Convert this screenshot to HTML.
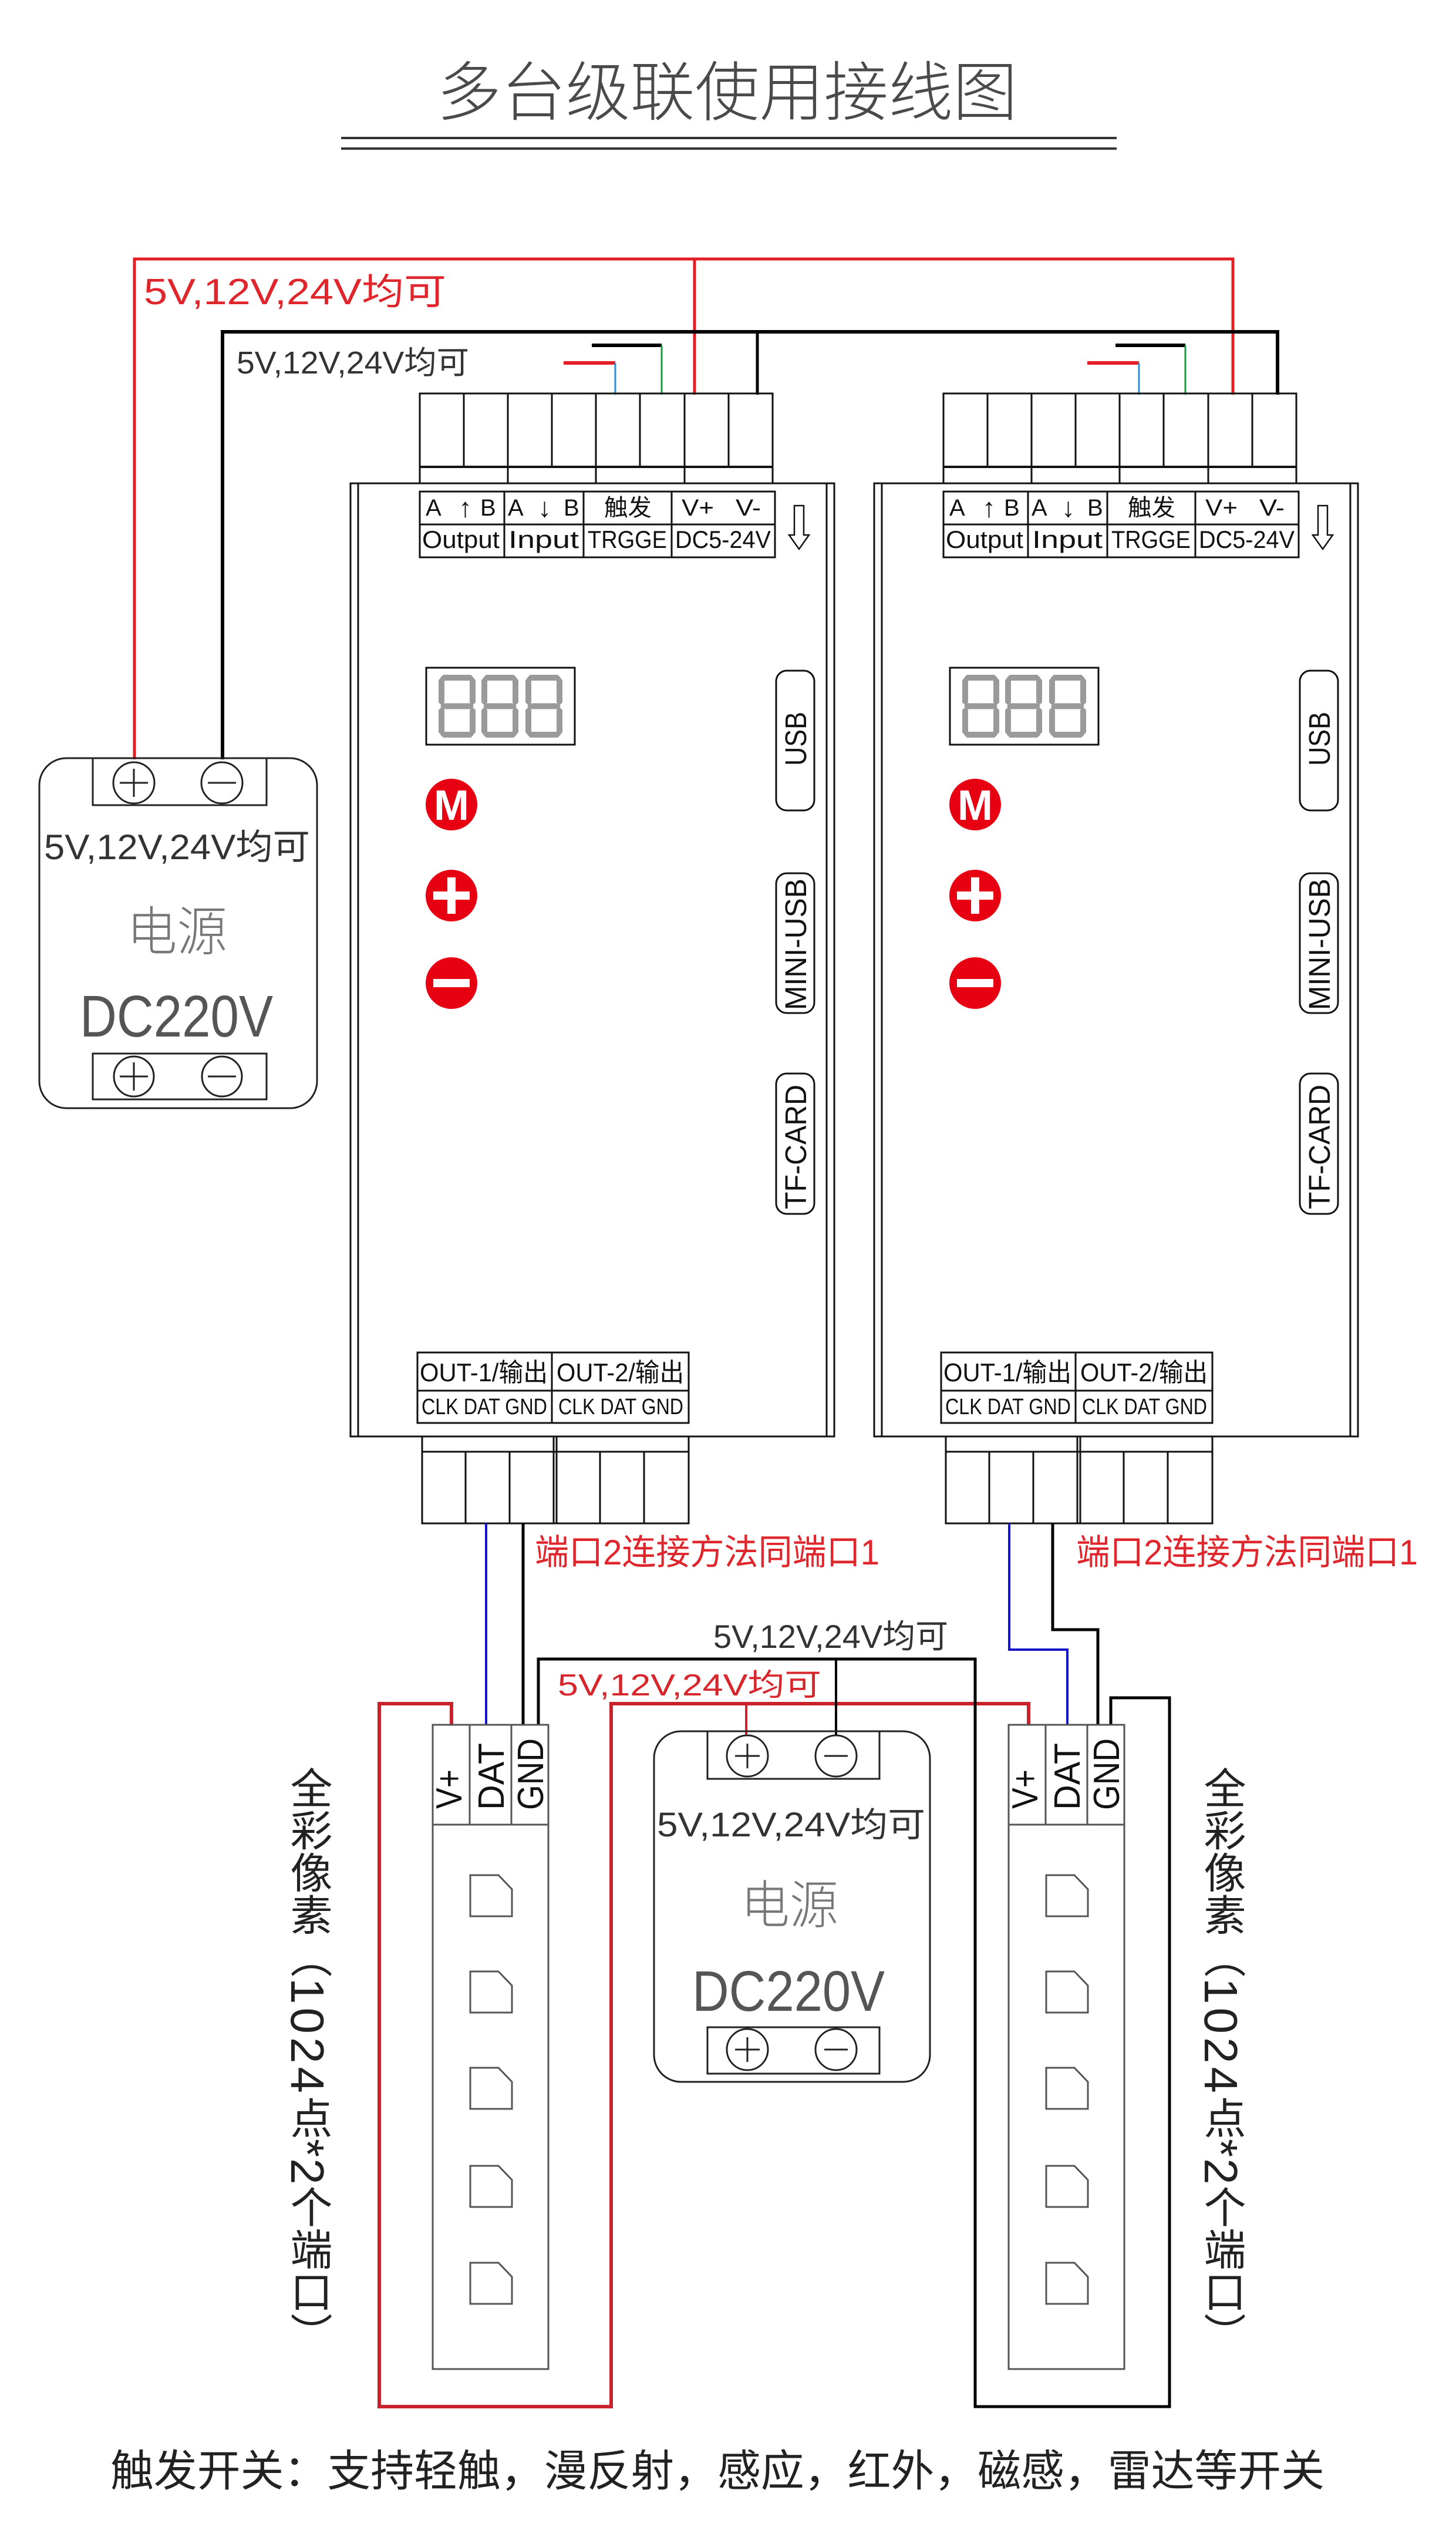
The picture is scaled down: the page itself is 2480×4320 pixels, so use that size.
<!DOCTYPE html>
<html><head><meta charset="utf-8">
<style>
html,body{margin:0;padding:0;background:#fff;}
body{width:2480px;height:4320px;position:relative;overflow:hidden;}
svg{position:absolute;left:0;top:0;}
.v{position:absolute;writing-mode:vertical-rl;font-family:"Liberation Sans","Noto Sans CJK SC",sans-serif;font-size:72px;line-height:72px;color:#222;white-space:nowrap;}
.v .d{font-size:80px;letter-spacing:6px;}
.v .s{font-size:80px;letter-spacing:2px;}
</style></head><body>
<svg width="2480" height="4320" viewBox="0 0 2480 4320" xmlns="http://www.w3.org/2000/svg" font-family="'Liberation Sans','Noto Sans CJK SC',sans-serif">
<defs>
<g id="dg" fill="#9a9a9a">
<polygon points="3,5 8,0 55,0 60,5 55,10 8,10"/>
<polygon points="3,53.5 8,48.5 55,48.5 60,53.5 55,58.5 8,58.5"/>
<polygon points="3,102 8,97 55,97 60,102 55,107 8,107"/>
<polygon points="5,4 10,9 10,47 5,52 0,47 0,9"/>
<polygon points="5,55 10,60 10,98 5,103 0,98 0,60"/>
<polygon points="58,4 63,9 63,47 58,52 53,47 53,9"/>
<polygon points="58,55 63,60 63,98 58,103 53,98 53,60"/>
</g>
</defs>

<!-- Title -->
<text x="744" y="196" font-size="110" font-weight="300" textLength="989" lengthAdjust="spacingAndGlyphs" fill="#4a4a4a">多台级联使用接线图</text>
<line x1="581" y1="235" x2="1902" y2="235" stroke="#333" stroke-width="4"/>
<line x1="581" y1="253" x2="1902" y2="253" stroke="#333" stroke-width="4"/>

<!-- Top wires -->
<g fill="none">
<path d="M229 1293 V441 H2100 V672" stroke="#e31e24" stroke-width="5"/>
<path d="M1183 441 V672" stroke="#e31e24" stroke-width="5"/>
<path d="M379 1293 V565 H2176 V672" stroke="#000" stroke-width="6"/>
<path d="M1290 565 V672" stroke="#000" stroke-width="5"/>
<path d="M1008 588 H1127" stroke="#000" stroke-width="6"/>
<path d="M1127 588 V672" stroke="#1a9a3a" stroke-width="3"/>
<path d="M960 618 H1048" stroke="#e31e24" stroke-width="6"/>
<path d="M1048 618 V672" stroke="#2a90d0" stroke-width="3"/>
<path d="M1900 588 H2019" stroke="#000" stroke-width="6"/>
<path d="M2019 588 V672" stroke="#1a9a3a" stroke-width="3"/>
<path d="M1852 618 H1940" stroke="#e31e24" stroke-width="6"/>
<path d="M1940 618 V672" stroke="#2a90d0" stroke-width="3"/>
</g>
<text x="245" y="518" font-size="62" textLength="515" lengthAdjust="spacingAndGlyphs" fill="#e0262d">5V,12V,24V均可</text>
<text x="403" y="636" font-size="54" textLength="396" lengthAdjust="spacingAndGlyphs" fill="#333">5V,12V,24V均可</text>

<!-- Controller 1 -->
<g>
<g fill="none" stroke="#111" stroke-width="3">
<rect x="715" y="670" width="601" height="153"/>
<line x1="715" y1="795" x2="1316" y2="795" stroke-width="4"/>
<path d="M790 670 V795 M865 670 V823 M940 670 V795 M1015 670 V823 M1090 670 V795 M1166 670 V823 M1241 670 V795"/>
<rect x="597" y="823" width="824" height="1623"/>
<path d="M610 823 V2446 M1408 823 V2446"/>
<rect x="715" y="837" width="605" height="112"/>
<path d="M715 893 H1320 M859 837 V949 M994 837 V949 M1144 837 V949"/>
<path d="M1353 861 H1369 V911 H1378 L1361 935 L1344 911 H1353 Z" stroke-width="2.5"/>
<rect x="726" y="1137" width="253" height="131"/>
<rect x="1322" y="1142" width="65" height="238" rx="18"/>
<rect x="1322" y="1487" width="65" height="238" rx="18"/>
<rect x="1322" y="1828" width="65" height="239" rx="18"/>
<rect x="711" y="2303" width="462" height="120"/>
<path d="M711 2368 H1173 M940 2303 V2423"/>
<rect x="719" y="2446" width="454" height="148"/>
<path d="M719 2472 H1173 M943 2446 V2594 M948 2446 V2594 M793 2472 V2594 M868 2472 V2594 M1022 2472 V2594 M1097 2472 V2594"/>
</g>
<g fill="#111" font-size="40">
<text x="725" y="878">A</text><text x="781" y="880" font-size="46">↑</text><text x="818" y="878">B</text>
<text x="865" y="878">A</text><text x="916" y="880" font-size="46">↓</text><text x="960" y="878">B</text>
<text x="1029" y="878" textLength="81" lengthAdjust="spacingAndGlyphs">触发</text>
<text x="1161" y="878" textLength="55" lengthAdjust="spacingAndGlyphs">V+</text>
<text x="1253" y="878" textLength="43" lengthAdjust="spacingAndGlyphs">V-</text>
<text x="719" y="933" font-size="42" textLength="132" lengthAdjust="spacingAndGlyphs">Output</text>
<text x="866" y="933" font-size="42" textLength="120" lengthAdjust="spacingAndGlyphs">Input</text>
<text x="1001" y="933" font-size="42" textLength="135" lengthAdjust="spacingAndGlyphs">TRGGE</text>
<text x="1150" y="933" font-size="42" textLength="163" lengthAdjust="spacingAndGlyphs">DC5-24V</text>
</g>
<use href="#dg" x="747" y="1149"/>
<use href="#dg" x="820" y="1149"/>
<use href="#dg" x="895" y="1149"/>
<circle cx="769" cy="1370" r="44" fill="#e60012"/>
<text x="769" y="1396" font-size="72" font-weight="bold" fill="#fff" text-anchor="middle">M</text>
<circle cx="769" cy="1525" r="44" fill="#e60012"/>
<rect x="738" y="1518" width="62" height="14" fill="#fff"/>
<rect x="762" y="1494" width="14" height="62" fill="#fff"/>
<circle cx="769" cy="1674" r="44" fill="#e60012"/>
<rect x="738" y="1667" width="62" height="14" fill="#fff"/>
<g fill="#111" font-size="51" text-anchor="middle">
<text transform="translate(1355,1258) rotate(-90)" y="18" textLength="92" lengthAdjust="spacingAndGlyphs">USB</text>
<text transform="translate(1355,1608) rotate(-90)" y="18" textLength="224" lengthAdjust="spacingAndGlyphs">MINI-USB</text>
<text transform="translate(1355,1953) rotate(-90)" y="18" textLength="212" lengthAdjust="spacingAndGlyphs">TF-CARD</text>
</g>
<g fill="#111">
<text x="715" y="2352" font-size="44" textLength="218" lengthAdjust="spacingAndGlyphs">OUT-1/输出</text>
<text x="948" y="2352" font-size="44" textLength="217" lengthAdjust="spacingAndGlyphs">OUT-2/输出</text>
<text x="718" y="2408" font-size="38" textLength="214" lengthAdjust="spacingAndGlyphs">CLK DAT GND</text>
<text x="951" y="2408" font-size="38" textLength="213" lengthAdjust="spacingAndGlyphs">CLK DAT GND</text>
</g>
</g>

<!-- Controller 2 -->
<g transform="translate(892,0)">
<g fill="none" stroke="#111" stroke-width="3">
<rect x="715" y="670" width="601" height="153"/>
<line x1="715" y1="795" x2="1316" y2="795" stroke-width="4"/>
<path d="M790 670 V795 M865 670 V823 M940 670 V795 M1015 670 V823 M1090 670 V795 M1166 670 V823 M1241 670 V795"/>
<rect x="597" y="823" width="824" height="1623"/>
<path d="M610 823 V2446 M1408 823 V2446"/>
<rect x="715" y="837" width="605" height="112"/>
<path d="M715 893 H1320 M859 837 V949 M994 837 V949 M1144 837 V949"/>
<path d="M1353 861 H1369 V911 H1378 L1361 935 L1344 911 H1353 Z" stroke-width="2.5"/>
<rect x="726" y="1137" width="253" height="131"/>
<rect x="1322" y="1142" width="65" height="238" rx="18"/>
<rect x="1322" y="1487" width="65" height="238" rx="18"/>
<rect x="1322" y="1828" width="65" height="239" rx="18"/>
<rect x="711" y="2303" width="462" height="120"/>
<path d="M711 2368 H1173 M940 2303 V2423"/>
<rect x="719" y="2446" width="454" height="148"/>
<path d="M719 2472 H1173 M943 2446 V2594 M948 2446 V2594 M793 2472 V2594 M868 2472 V2594 M1022 2472 V2594 M1097 2472 V2594"/>
</g>
<g fill="#111" font-size="40">
<text x="725" y="878">A</text><text x="781" y="880" font-size="46">↑</text><text x="818" y="878">B</text>
<text x="865" y="878">A</text><text x="916" y="880" font-size="46">↓</text><text x="960" y="878">B</text>
<text x="1029" y="878" textLength="81" lengthAdjust="spacingAndGlyphs">触发</text>
<text x="1161" y="878" textLength="55" lengthAdjust="spacingAndGlyphs">V+</text>
<text x="1253" y="878" textLength="43" lengthAdjust="spacingAndGlyphs">V-</text>
<text x="719" y="933" font-size="42" textLength="132" lengthAdjust="spacingAndGlyphs">Output</text>
<text x="866" y="933" font-size="42" textLength="120" lengthAdjust="spacingAndGlyphs">Input</text>
<text x="1001" y="933" font-size="42" textLength="135" lengthAdjust="spacingAndGlyphs">TRGGE</text>
<text x="1150" y="933" font-size="42" textLength="163" lengthAdjust="spacingAndGlyphs">DC5-24V</text>
</g>
<use href="#dg" x="747" y="1149"/>
<use href="#dg" x="820" y="1149"/>
<use href="#dg" x="895" y="1149"/>
<circle cx="769" cy="1370" r="44" fill="#e60012"/>
<text x="769" y="1396" font-size="72" font-weight="bold" fill="#fff" text-anchor="middle">M</text>
<circle cx="769" cy="1525" r="44" fill="#e60012"/>
<rect x="738" y="1518" width="62" height="14" fill="#fff"/>
<rect x="762" y="1494" width="14" height="62" fill="#fff"/>
<circle cx="769" cy="1674" r="44" fill="#e60012"/>
<rect x="738" y="1667" width="62" height="14" fill="#fff"/>
<g fill="#111" font-size="51" text-anchor="middle">
<text transform="translate(1355,1258) rotate(-90)" y="18" textLength="92" lengthAdjust="spacingAndGlyphs">USB</text>
<text transform="translate(1355,1608) rotate(-90)" y="18" textLength="224" lengthAdjust="spacingAndGlyphs">MINI-USB</text>
<text transform="translate(1355,1953) rotate(-90)" y="18" textLength="212" lengthAdjust="spacingAndGlyphs">TF-CARD</text>
</g>
<g fill="#111">
<text x="715" y="2352" font-size="44" textLength="218" lengthAdjust="spacingAndGlyphs">OUT-1/输出</text>
<text x="948" y="2352" font-size="44" textLength="217" lengthAdjust="spacingAndGlyphs">OUT-2/输出</text>
<text x="718" y="2408" font-size="38" textLength="214" lengthAdjust="spacingAndGlyphs">CLK DAT GND</text>
<text x="951" y="2408" font-size="38" textLength="213" lengthAdjust="spacingAndGlyphs">CLK DAT GND</text>
</g>
</g>

<!-- Power supply 1 -->
<g fill="none" stroke="#222" stroke-width="3">
<rect x="67" y="1291" width="473" height="596" rx="46"/>
<rect x="158" y="1291" width="296" height="80"/>
<circle cx="228" cy="1333" r="35"/>
<circle cx="378" cy="1333" r="35"/>
<path d="M204 1333 H252 M228 1309 V1357 M354 1333 H402"/>
<rect x="158" y="1794" width="296" height="78"/>
<circle cx="228" cy="1833" r="34"/>
<circle cx="378" cy="1833" r="34"/>
<path d="M204 1833 H252 M228 1809 V1857 M354 1833 H402"/>
</g>
<text x="75" y="1463" font-size="60" textLength="453" lengthAdjust="spacingAndGlyphs" fill="#333">5V,12V,24V均可</text>
<text x="216" y="1618" font-size="90" font-weight="300" textLength="171" lengthAdjust="spacingAndGlyphs" fill="#777">电源</text>
<text x="136" y="1765" font-size="100" textLength="329" lengthAdjust="spacingAndGlyphs" fill="#555">DC220V</text>

<!-- Bottom wires -->
<g fill="none">
<path d="M769 2937 V2901 H646 V4098 H1041 V2901 H1752 V2937" stroke="#c8232c" stroke-width="6"/>
<path d="M1271 2901 V2956" stroke="#d2232c" stroke-width="4"/>
<path d="M828 2594 V2937" stroke="#1414c8" stroke-width="4"/>
<path d="M891 2594 V2937" stroke="#000" stroke-width="5"/>
<path d="M917 2937 V2825 H1661 V4098 H1992 V2891 H1892 V2937" stroke="#000" stroke-width="5"/>
<path d="M1424 2825 V2956" stroke="#000" stroke-width="4"/>
<path d="M1719 2594 V2809 H1818 V2937" stroke="#1414c8" stroke-width="4"/>
<path d="M1793 2594 V2775 H1870 V2937" stroke="#000" stroke-width="5"/>
</g>
<text x="911" y="2664" font-size="60" textLength="587" lengthAdjust="spacingAndGlyphs" fill="#e0262d">端口2连接方法同端口1</text>
<text x="1833" y="2664" font-size="60" textLength="582" lengthAdjust="spacingAndGlyphs" fill="#e0262d">端口2连接方法同端口1</text>
<text x="1215" y="2806" font-size="56" textLength="400" lengthAdjust="spacingAndGlyphs" fill="#333">5V,12V,24V均可</text>
<text x="950" y="2887" font-size="52" textLength="449" lengthAdjust="spacingAndGlyphs" fill="#d8262d">5V,12V,24V均可</text>

<!-- Power supply 2 -->
<g fill="none" stroke="#222" stroke-width="3">
<rect x="1114" y="2948" width="470" height="597" rx="46"/>
<rect x="1205" y="2948" width="293" height="81"/>
<circle cx="1273" cy="2990" r="35"/>
<circle cx="1424" cy="2990" r="35"/>
<path d="M1252 2990 H1294 M1273 2969 V3011 M1404 2990 H1444"/>
<rect x="1205" y="3452" width="293" height="79"/>
<circle cx="1273" cy="3490" r="35"/>
<circle cx="1424" cy="3490" r="35"/>
<path d="M1252 3490 H1294 M1273 3469 V3511 M1404 3490 H1444"/>
</g>
<text x="1119" y="3127" font-size="58" textLength="457" lengthAdjust="spacingAndGlyphs" fill="#333">5V,12V,24V均可</text>
<text x="1262" y="3275" font-size="88" font-weight="300" textLength="166" lengthAdjust="spacingAndGlyphs" fill="#777">电源</text>
<text x="1179" y="3424" font-size="97" textLength="328" lengthAdjust="spacingAndGlyphs" fill="#555">DC220V</text>

<!-- Strip 1 -->
<g fill="none" stroke="#555" stroke-width="3">
<rect x="737" y="2937" width="197" height="1097"/>
<path d="M737 3107 H934 M800 2937 V3107 M871 2937 V3107"/>
<path d="M801 3193 H849 L872 3217 V3263 H801 Z"/>
<path d="M801 3357 H849 L872 3381 V3427 H801 Z"/>
<path d="M801 3521 H849 L872 3545 V3591 H801 Z"/>
<path d="M801 3688 H849 L872 3712 V3758 H801 Z"/>
<path d="M801 3853 H849 L872 3877 V3923 H801 Z"/>
</g>
<g fill="#111" font-size="62">
<text transform="translate(786,3080) rotate(-90)" textLength="67" lengthAdjust="spacingAndGlyphs">V+</text>
<text transform="translate(858,3082) rotate(-90)" textLength="114" lengthAdjust="spacingAndGlyphs">DAT</text>
<text transform="translate(925,3082) rotate(-90)" textLength="122" lengthAdjust="spacingAndGlyphs">GND</text>
</g>

<!-- Strip 2 -->
<g transform="translate(981,0)">
<g fill="none" stroke="#555" stroke-width="3">
<rect x="737" y="2937" width="197" height="1097"/>
<path d="M737 3107 H934 M800 2937 V3107 M871 2937 V3107"/>
<path d="M801 3193 H849 L872 3217 V3263 H801 Z"/>
<path d="M801 3357 H849 L872 3381 V3427 H801 Z"/>
<path d="M801 3521 H849 L872 3545 V3591 H801 Z"/>
<path d="M801 3688 H849 L872 3712 V3758 H801 Z"/>
<path d="M801 3853 H849 L872 3877 V3923 H801 Z"/>
</g>
<g fill="#111" font-size="62">
<text transform="translate(786,3080) rotate(-90)" textLength="67" lengthAdjust="spacingAndGlyphs">V+</text>
<text transform="translate(858,3082) rotate(-90)" textLength="114" lengthAdjust="spacingAndGlyphs">DAT</text>
<text transform="translate(925,3082) rotate(-90)" textLength="122" lengthAdjust="spacingAndGlyphs">GND</text>
</g>
</g>

<!-- Footer -->
<text x="188" y="4233" font-size="74" textLength="2068" lengthAdjust="spacingAndGlyphs" fill="#222">触发开关：支持轻触，漫反射，感应，红外，磁感，雷达等开关</text>
</svg>
<div class="v" style="left:487px;top:3008px">全彩像素（<span class="d">1024</span>点<span class="s">*2</span>个端口）</div>
<div class="v" style="left:2043px;top:3008px">全彩像素（<span class="d">1024</span>点<span class="s">*2</span>个端口）</div>
</body></html>
